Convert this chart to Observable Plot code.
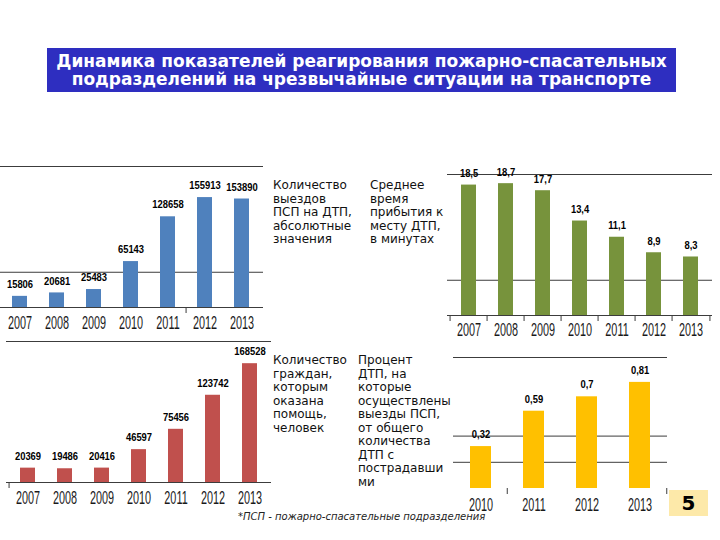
<!DOCTYPE html>
<html><head><meta charset="utf-8">
<script src="https://cdn.jsdelivr.net/npm/d3@7"></script>
<script src="https://cdn.jsdelivr.net/npm/@observablehq/plot@0.6"></script>
<style>
body{margin:0;background:#fff;}
#slide{position:relative;width:720px;height:540px;overflow:hidden;font-family:"DejaVu Sans",Verdana,sans-serif;background:#fff;}
.abs{position:absolute;}
#title{left:47px;top:48px;width:629px;height:44px;background:#2e2ec0;color:#fff;font-weight:bold;font-size:17px;line-height:18.5px;text-align:center;display:flex;align-items:center;justify-content:center;white-space:nowrap;}
.note{font-size:12px;line-height:13.5px;color:#111;white-space:nowrap;}
#foot{left:238px;top:511px;font-size:10px;font-style:italic;color:#222;white-space:nowrap;}
#page{left:669px;top:490px;width:39px;height:26px;background:#fde9a9;font-weight:bold;font-size:20px;line-height:26px;text-align:center;color:#000;}
.chart svg{display:block;}
</style>
</head><body>
<div id="slide">
  <div id="title" class="abs"><div>Динамика показателей реагирования пожарно-спасательных<br>подразделений на чрезвычайные ситуации на транспорте</div></div>
  <div id="c1" class="abs chart" style="left:-2px;top:150px"></div>
  <div id="c2" class="abs chart" style="left:440px;top:155px"></div>
  <div id="c3" class="abs chart" style="left:0px;top:330px"></div>
  <div id="c4" class="abs chart" style="left:440px;top:345px"></div>
  <div class="abs note" style="left:273px;top:179px">Количество<br>выездов<br>ПСП на ДТП,<br>абсолютные<br>значения</div>
  <div class="abs note" style="left:370px;top:179px">Среднее<br>время<br>прибытия к<br>месту ДТП,<br>в минутах</div>
  <div class="abs note" style="left:273px;top:354px">Количество<br>граждан,<br>которым<br>оказана<br>помощь,<br>человек</div>
  <div class="abs note" style="left:358px;top:354px">Процент<br>ДТП, на<br>которые<br>осуществлены<br>выезды ПСП,<br>от общего<br>количества<br>ДТП с<br>пострадавши<br>ми</div>
  <div id="foot" class="abs">*ПСП - пожарно-спасательные подразделения</div>
  <div id="page" class="abs">5</div>
</div>
<script>
// ---- data ----
const yearsLong = ["2007", "2008", "2009", "2010", "2011", "2012", "2013"];
const departures = [15806, 20681, 25483, 65143, 128658, 155913, 153890];
const arrivalMinutes = [18.5, 18.7, 17.7, 13.4, 11.1, 8.9, 8.3];
const citizensHelped = [20369, 19486, 20416, 46597, 75456, 123742, 168528];
const yearsShort = ["2010", "2011", "2012", "2013"];
const percentDtp = [0.32, 0.59, 0.7, 0.81];

const fontFam = "'Liberation Sans',Arial,sans-serif";
const ruleColor = "#3c3c3c";
const fmt = d => String(d).replace(".", ",");

function chart({years, values, color, yMax, grid, W, H, mt, mb, ml, mr, labelDy, yearDy, baseline, ticksLeft, ticksRight}) {
  const data = years.map((y, i) => ({year: y, value: values[i]}));
  const step = (W - ml - mr) / years.length;
  const frameH = H - mt - mb;
  const marks = [
    Plot.ruleY(grid, {stroke: ruleColor, strokeWidth: 1}),
    Plot.barY(data, {x: "year", y: "value", fill: color}),
    Plot.text(data, {x: "year", y: "value", text: d => fmt(d.value), dy: labelDy, fontWeight: "bold", fontSize: 11.5, fontFamily: fontFam, fill: "#000", className: "vlab"}),
    Plot.text(data, {x: "year", text: "year", frameAnchor: "bottom", dy: yearDy, fontSize: 17.5, fontFamily: fontFam, fill: "#1a1a1a", className: "ylab"}),
    Plot.ruleX(ticksLeft, {x: d => d, dx: -step / 2, insetTop: frameH, insetBottom: -6, stroke: ruleColor}),
    Plot.ruleX(ticksRight, {x: d => d, dx: step / 2, insetTop: frameH, insetBottom: -6, stroke: ruleColor})
  ];
  if (baseline) marks.push(Plot.ruleY([0], {stroke: ruleColor, strokeWidth: 1}));
  return Plot.plot({
    width: W, height: H,
    marginTop: mt, marginBottom: mb, marginLeft: ml, marginRight: mr,
    style: {fontFamily: fontFam, background: "transparent", overflow: "visible"},
    x: {domain: years, paddingInner: 0.6, paddingOuter: 0.3, axis: null},
    y: {domain: [0, yMax], axis: null},
    marks
  });
}

// condense chart texts horizontally (the original uses a narrow face)
function condense(svg) {
  const apply = (sel, s) => svg.querySelectorAll(sel).forEach(t => {
    const b = t.getBBox();
    const cx = b.x + b.width / 2;
    const tr = t.getAttribute("transform") || "";
    t.setAttribute("transform", `${tr} translate(${cx},0) scale(${s},1) translate(${-cx},0)`);
  });
  apply(".ylab text, g.ylab text, text.ylab", 0.62);
  apply(".vlab text, g.vlab text, text.vlab", 0.82);
}

function place(id, opts) {
  const svg = chart(opts);
  document.getElementById(id).append(svg);
  condense(svg);
}

place("c1", {
  years: yearsLong, values: departures, color: "#4f81bd", yMax: 200000, grid: [50000, 200000],
  W: 267, H: 195, mt: 16, mb: 38, ml: 0, mr: 2, labelDy: -12, yearDy: 21, baseline: true,
  ticksLeft: ["2012"], ticksRight: []
});
place("c2", {
  years: yearsLong, values: arrivalMinutes, color: "#77933c", yMax: 20, grid: [5, 20],
  W: 280, H: 195, mt: 19, mb: 35, ml: 7, mr: 8, labelDy: -11.5, yearDy: 20, baseline: true,
  ticksLeft: yearsLong, ticksRight: ["2013"]
});
place("c3", {
  years: yearsLong, values: citizensHelped, color: "#c0504d", yMax: 200000, grid: [200000],
  W: 272, H: 195, mt: 11, mb: 43, ml: 6, mr: 1, labelDy: -12, yearDy: 21, baseline: true,
  ticksLeft: ["2007"], ticksRight: []
});
place("c4", {
  years: yearsShort, values: percentDtp, color: "#ffc000", yMax: 1, grid: [0.2, 0.4, 1],
  W: 240, H: 195, mt: 12, mb: 52, ml: 13, mr: 13, labelDy: -12, yearDy: 22, baseline: false,
  ticksLeft: ["2011"], ticksRight: ["2013"]
});
</script>
</body></html>
